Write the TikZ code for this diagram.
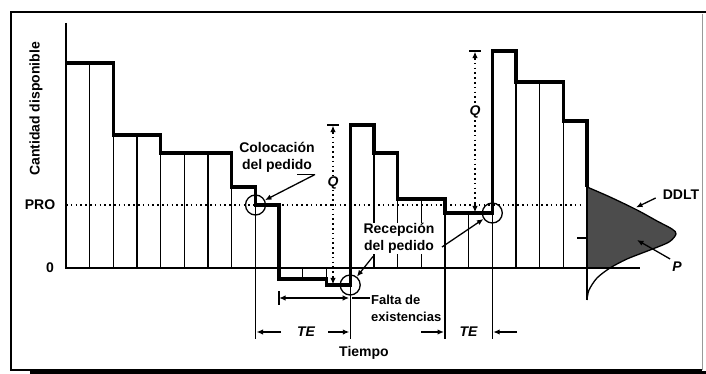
\documentclass[tikz,border=0pt]{standalone}
\usepackage{fontspec}
\setmainfont{Liberation Sans}
\usetikzlibrary{arrows.meta}
\begin{document}
\begin{tikzpicture}[x=1pt,y=-1pt,
  thinln/.style={line width=1.3pt},
  thickln/.style={line width=3.3pt, line join=miter},
  lbl/.style={font=\fontsize{14}{17}\selectfont\bfseries, inner sep=1pt},
  ilbl/.style={font=\fontsize{14}{17}\selectfont\bfseries\itshape, inner sep=1pt},
  dotln/.style={line width=1.6pt, dash pattern=on 1.6pt off 3.2pt},
  arr/.style={-{Latex[length=6.5pt,width=5.5pt]}, line width=1.3pt},
  ring/.style={circle, draw, line width=1.3pt, minimum size=20pt, inner sep=0pt},
  distfill/.style={fill=black!70},
]
\useasboundingbox (0,0) rectangle (706,374);
% frame
\draw[line width=1.6pt] (706,12) -- (11,12) -- (11,370) -- (702,370);
\draw[line width=1pt, black!40] (702,14) -- (702,370);
\fill (30,371) rectangle (706,374);

% distribution fill
\begin{scope}
\clip (587,187) rectangle (700,268);
\fill[distfill] plot[smooth] coordinates {(587,187) (610,197) (637,210) (657,221) (672,229) (676,234) (669,242) (650,250) (627,259) (610,268) (597,278) (589,290) (587,300)} -- cycle;
\end{scope}
\draw[thinln] plot[smooth] coordinates {(587,187) (610,197) (637,210) (657,221) (672,229) (676,234) (669,242) (650,250) (627,259) (610,268) (597,278) (589,290) (587,300)};

% PRO dotted line
\draw[dotln] (66,205) -- (582,205);

% axes
\draw[thinln] (66,23) -- (66,268) -- (640,268);
\draw[thinln] (577,238) -- (587,238);

% thin verticals
\foreach \x/\t/\b in {89.7/63/268, 113.4/135/268, 137/135/268, 160.7/153/268, 184.4/153/268, 208.1/153/268, 231.8/187/268, 255.5/205/339, 302.8/268/279, 326.5/268/279, 350.2/285/339, 373.9/153/268, 397.5/199/268, 421.2/199/268, 444.9/213/339, 468.6/213/268, 492.3/213/339, 515.9/82/268, 539.6/82/268, 563.3/121/268, 587/187/300}
  \draw[thinln] (\x,\t) -- (\x,\b);

% inventory profile
\draw[thickln] (66,63) -- (113.4,63) -- (113.4,135) -- (160.7,135) -- (160.7,153) -- (231.8,153) -- (231.8,187) -- (255.5,187) -- (255.5,205) -- (279.1,205) -- (279.1,279) -- (326.5,279) -- (326.5,285) -- (350.2,285) -- (350.2,125) -- (373.9,125) -- (373.9,153) -- (397.5,153) -- (397.5,199) -- (444.9,199) -- (444.9,213) -- (492.3,213) -- (492.3,51) -- (515.9,51) -- (515.9,82) -- (563.3,82) -- (563.3,121) -- (587,121) -- (587,187);

% circles
\node[ring] (c1) at (255.5,205) {};
\node[ring] (c2) at (350.2,285) {};
\node[ring] (c3) at (492.3,213) {};

% Q dimensions
\draw[dotln] (333,132) -- (333,278);
\draw[thinln] (327,125) -- (339,125);
\draw[arr] (333,134) -- (333,125.6);
\draw[arr] (333,276) -- (333,284.4);
\node[ilbl, fill=white] (q1) at (333,183) {Q};

\draw[dotln] (475,58) -- (475,206);
\draw[thinln] (469,51) -- (481,51);
\draw[arr] (475,60) -- (475,51.6);
\draw[arr] (475,204) -- (475,212.4);
\node[ilbl, fill=white] (q2) at (475,112) {Q};

% labels
\node[lbl] (pro) at (40,205) {PRO};
\node[lbl] (zero) at (50,268) {0};
\node[lbl, rotate=90] (ylab) at (36,109) {Cantidad disponible};
\node[lbl] (tiempo) at (364,353) {Tiempo};

\node[lbl, align=center] (coloc) at (277,157) {Colocación\\del pedido};
\coordinate (ul1) at (297,174.5);
\coordinate (ul2) at (315,174.5);
\draw[thinln] (ul1) -- (ul2);
\draw[arr] (ul2) -- (c1);

\node[lbl, align=center, fill=white, inner sep=0.5pt] (recep) at (399,238.5) {Recepción\\del pedido};
\coordinate (rp1) at (442,247);
\coordinate (rp2) at (373,256.5);
\draw[arr] (rp1) -- (c3);
\draw[arr] (rp2) -- (c2);

\node[lbl, font=\fontsize{13}{17}\selectfont\bfseries, align=left, anchor=west] (falta) at (370,308.5) {Falta de\\existencias};
\draw[thinln] (279.1,291) -- (279.1,305);
\draw[{Latex[length=6.5pt,width=5.5pt]}-{Latex[length=6.5pt,width=5.5pt]}, thinln] (279.1,298) -- (349.2,298);
\coordinate (fl) at (352,298);
\draw[thinln] (fl) -- (falta.west |- fl);

% TE dimensions
\node[ilbl] (te1) at (306,332) {TE};
\draw[arr] (281,332) -- (256.5,332);
\draw[arr] (328,332) -- (349.3,332);
\node[ilbl] (te2) at (468.6,332) {TE};
\draw[arr] (421,332) -- (444,332);
\draw[arr] (517,332) -- (493.2,332);

% distribution labels
\node[lbl] (ddlt) at (681,195) {DDLT};
\draw[arr] (ddlt.west) ++(-6,3) -- (636,207.5);
\node[ilbl] (p) at (677,267) {P};
\draw[arr] (p.north west) ++(-1,-2) -- (637,240);
\end{tikzpicture}
\end{document}
